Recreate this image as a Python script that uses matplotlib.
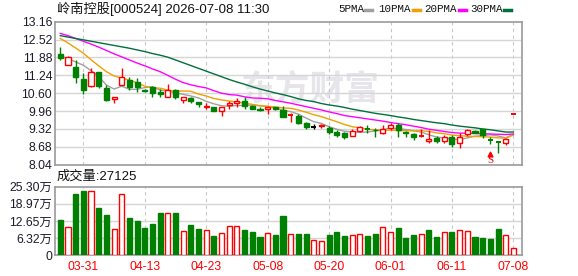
import matplotlib
matplotlib.use("Agg")
import matplotlib.pyplot as plt
from matplotlib.lines import Line2D

plt.rcParams['font.family'] = ['Liberation Sans', 'Noto Sans CJK SC']

# daily candles (open, high, low, close), 60 sessions
opens = [11.99, 11.60, 11.55, 11.10, 10.86, 11.35, 10.78, 10.38, 10.88, 11.07,
         11.01, 10.72, 10.81, 10.65, 10.47, 10.71, 10.36, 10.44, 10.27, 10.12,
         10.10, 9.96, 10.17, 10.24, 10.33, 10.14, 10.05, 10.02, 10.10, 10.00,
         9.80, 9.78, 9.52, 9.40, 9.41, 9.36, 9.22, 9.16, 9.07, 9.25,
         9.32, 9.30, 9.17, 9.34, 9.46, 9.21, 9.15, 9.07, 8.90, 9.00,
         8.90, 9.02, 8.83, 9.13, 9.25, 9.31, 8.94, 8.86, 8.81, 9.84]
highs = [12.24, 11.93, 11.79, 11.31, 11.49, 11.37, 10.89, 10.47, 11.49, 11.17,
         11.13, 10.76, 10.86, 10.74, 10.93, 10.76, 10.45, 10.47, 10.27, 10.24,
         10.10, 10.12, 10.33, 10.44, 10.47, 10.17, 10.12, 10.12, 10.12, 10.14,
         9.90, 9.84, 9.58, 9.50, 9.48, 9.42, 9.29, 9.22, 9.31, 9.44,
         9.46, 9.37, 9.46, 9.54, 9.52, 9.26, 9.18, 9.31, 9.28, 9.06,
         9.11, 9.10, 9.16, 9.31, 9.28, 9.33, 9.02, 8.89, 9.00, 9.84]
lows = [11.79, 11.60, 10.98, 10.56, 10.81, 10.78, 10.32, 10.24, 10.88, 10.71,
        10.65, 10.65, 10.47, 10.47, 10.47, 10.41, 10.26, 10.24, 10.10, 10.05,
        9.96, 9.78, 10.05, 10.12, 10.05, 10.02, 9.96, 9.87, 10.00, 9.76,
        9.58, 9.48, 9.32, 9.31, 9.36, 9.13, 9.04, 8.96, 9.07, 9.20,
        9.19, 9.04, 9.13, 9.28, 9.04, 9.02, 8.92, 9.04, 8.83, 8.83,
        8.83, 8.66, 8.65, 9.07, 9.17, 8.99, 8.78, 8.47, 8.74, 9.84]
closes = [11.87, 11.91, 11.19, 10.71, 11.35, 10.86, 10.36, 10.47, 11.19, 10.83,
          10.83, 10.68, 10.62, 10.57, 10.71, 10.45, 10.45, 10.33, 10.20, 10.14,
          9.96, 10.12, 10.24, 10.33, 10.14, 10.05, 10.00, 10.12, 10.02, 9.76,
          9.82, 9.54, 9.40, 9.40, 9.45, 9.22, 9.10, 9.04, 9.25, 9.38,
          9.30, 9.28, 9.31, 9.46, 9.28, 9.19, 9.04, 9.09, 8.95, 8.89,
          9.04, 8.77, 9.04, 9.28, 9.19, 9.10, 8.92, 8.85, 8.95, 9.84]

ma5 = [11.93, 11.84, 11.72, 11.60, 11.41, 11.20, 10.89, 10.75, 10.85, 10.74,
       10.74, 10.80, 10.83, 10.71, 10.68, 10.61, 10.56, 10.50, 10.43, 10.31,
       10.22, 10.15, 10.13, 10.16, 10.16, 10.18, 10.15, 10.13, 10.07, 9.99,
       9.94, 9.85, 9.71, 9.58, 9.52, 9.40, 9.31, 9.24, 9.21, 9.20,
       9.21, 9.25, 9.30, 9.35, 9.33, 9.30, 9.26, 9.21, 9.11, 9.03,
       9.00, 8.95, 8.94, 9.00, 9.06, 9.08, 9.11, 9.07, 9.00, 9.13]
ma10 = [12.56, 12.40, 12.22, 12.03, 11.80, 11.58, 11.37, 11.22, 11.14, 11.07,
        10.97, 10.85, 10.79, 10.78, 10.71, 10.67, 10.68, 10.67, 10.57, 10.50,
        10.41, 10.36, 10.32, 10.29, 10.24, 10.20, 10.15, 10.13, 10.11, 10.07,
        10.06, 10.00, 9.92, 9.83, 9.76, 9.67, 9.58, 9.48, 9.40, 9.36,
        9.31, 9.28, 9.27, 9.28, 9.26, 9.26, 9.25, 9.26, 9.23, 9.18,
        9.15, 9.10, 9.08, 9.06, 9.05, 9.04, 9.03, 9.00, 9.00, 9.10]
ma20 = [12.74, 12.66, 12.56, 12.46, 12.36, 12.25, 12.13, 12.01, 11.90, 11.79,
        11.68, 11.58, 11.47, 11.37, 11.24, 11.10, 10.98, 10.90, 10.84, 10.79,
        10.69, 10.60, 10.55, 10.53, 10.47, 10.43, 10.42, 10.40, 10.34, 10.29,
        10.24, 10.18, 10.12, 10.06, 10.00, 9.93, 9.87, 9.80, 9.76, 9.72,
        9.68, 9.64, 9.60, 9.55, 9.51, 9.47, 9.42, 9.37, 9.31, 9.27,
        9.23, 9.19, 9.17, 9.17, 9.16, 9.15, 9.14, 9.13, 9.12, 9.14]
ma30 = [12.66, 12.61, 12.56, 12.51, 12.46, 12.41, 12.36, 12.31, 12.26, 12.21,
        12.15, 12.09, 12.02, 11.96, 11.89, 11.79, 11.69, 11.59, 11.49, 11.39,
        11.29, 11.19, 11.09, 11.00, 10.92, 10.83, 10.75, 10.68, 10.61, 10.55,
        10.48, 10.40, 10.34, 10.30, 10.23, 10.18, 10.14, 10.09, 10.03, 9.98,
        9.93, 9.88, 9.84, 9.80, 9.75, 9.71, 9.66, 9.62, 9.58, 9.54,
        9.51, 9.46, 9.42, 9.39, 9.36, 9.32, 9.29, 9.25, 9.21, 9.21]

# volume in 万 shares, and whether the volume bar is drawn as an up day
volume = [13.0, 10.3, 22.6, 23.7, 23.7, 17.4, 14.9, 9.6, 22.5, 13.8,
          12.7, 10.1, 11.4, 15.6, 15.6, 15.6, 9.0, 11.2, 9.7, 9.3,
          7.1, 8.1, 10.7, 10.7, 9.3, 8.6, 6.8, 8.1, 7.5, 14.5,
          7.7, 7.9, 7.9, 5.6, 5.3, 7.5, 8.6, 7.1, 7.4, 7.7,
          7.1, 7.7, 10.3, 8.6, 10.1, 6.4, 7.5, 7.7, 9.3, 6.8,
          8.6, 8.6, 9.3, 9.0, 6.8, 6.4, 6.0, 9.7, 7.4, 2.71]
vol_dir = "DUDDUDDUUDDDDDUDUDDUDUUUDDDUDDUDDUUDDDUUDDUUDDDUDDUDUUDDDDUU"

date_idx = [3, 11, 19, 27, 35, 43, 51, 59]
date_labels = ['03-31', '04-13', '04-23', '05-08', '05-20', '06-01', '06-11', '07-08']

price_ticks = [8.04, 8.68, 9.32, 9.96, 10.60, 11.24, 11.88, 12.52, 13.16]
vol_ticks = [0, 6.325, 12.65, 18.975, 25.30]
vol_tick_labels = ['0', '6.32万', '12.65万', '18.97万', '25.30万']

title = '岭南控股[000524] 2026-07-08 11:30'
vol_title = '成交量:27125'
signal_day = 56

RED = '#ff0000'
GREEN = '#008000'
FRAME = '#9a9a9a'
GRID = '#d6d6d6'
TXT = '#1c1c2c'
MA_COLORS = ['#a0a0a0', '#f0a000', '#ff00ff', '#00703c']

W, H = 578, 276
fig = plt.figure(figsize=(W / 100, H / 100), dpi=100)
L, R = 55, 522
ax1 = fig.add_axes([L / W, 1 - 164.7 / H, (R - L) / W, 143 / H])
ax2 = fig.add_axes([L / W, 1 - 255.3 / H, (R - L) / W, 68.6 / H])

xlim = (-0.69, 60.12)
for ax in (ax1, ax2):
    ax.set_xlim(*xlim)
    for s in ax.spines.values():
        s.set_color(FRAME)
        s.set_linewidth(1.2)
    ax.tick_params(length=0, labelsize=8.8, labelcolor=TXT, pad=2)
    for d in date_idx:
        ax.axvline(d, color='#c8c8c8', lw=0.8, ls=(0, (3, 3)), zorder=1)

# watermark
ax1.text(310 / W, 1 - 89 / H, '东方财富', transform=fig.transFigure, ha='center', va='center',
         fontsize=25, fontweight='bold', color='#e6e6ea', family='Noto Sans CJK SC', zorder=0.5)

# price panel
ax1.set_ylim(price_ticks[0], price_ticks[-1])
ax1.set_yticks(price_ticks)
ax1.set_yticklabels(['%.2f' % t for t in price_ticks])
ax1.set_xticks([])
for t in price_ticks[1:-1]:
    ax1.axhline(t, color=GRID, lw=1, zorder=1)

bw = 0.66
for i in range(len(closes)):
    o, h, l, c = opens[i], highs[i], lows[i], closes[i]
    if c > o:
        col = RED
    elif c < o:
        col = GREEN
    else:
        prev = closes[i - 1] if i else c
        col = RED if c > prev else (GREEN if c < prev else 'black')
    ax1.vlines(i, l, h, color=col, lw=1, zorder=3)
    if abs(c - o) < 0.02:
        ax1.hlines((o + c) / 2, i - bw / 2, i + bw / 2, color=col, lw=1.4, zorder=4)
    else:
        face = 'white' if col == RED else col
        ax1.bar(i, abs(c - o), bw, bottom=min(o, c), facecolor=face, edgecolor=col,
                lw=1, zorder=4)

xs = list(range(len(closes)))
for ma, col in zip([ma5, ma10, ma20, ma30], MA_COLORS):
    ax1.plot(xs, ma, color=col, lw=1, zorder=2)

ax1.plot(signal_day, 8.43, marker='^', color=RED, ms=3.5, zorder=5)
ax1.text(signal_day, 8.19, 'S', color=RED, ha='center', va='center', fontsize=8,
         family='Liberation Serif', zorder=5)

# volume panel
ax2.set_ylim(0, vol_ticks[-1])
ax2.set_yticks(vol_ticks)
ax2.set_yticklabels(vol_tick_labels)
for t in vol_ticks[1:-1]:
    ax2.axhline(t, color=GRID, lw=1, zorder=1)
for i, v in enumerate(volume):
    if vol_dir[i] == 'U':
        ax2.bar(i, v, bw, facecolor='white', edgecolor=RED, lw=1, zorder=3)
    else:
        ax2.bar(i, v, bw, facecolor=GREEN, edgecolor=GREEN, lw=1, zorder=3)
ax2.set_xticks(date_idx)
ax2.set_xticklabels(date_labels, color=RED)
ax2.tick_params(axis='x', pad=4)

# header texts
fig.text(57 / W, 1 - 9 / H, title, fontsize=9.5, va='center', color='#111111')
fig.text(57 / W, 1 - 177 / H, vol_title, fontsize=9.5, va='center', color='#111111')

legend_names = ['5PMA', '10PMA', '20PMA', '30PMA']
legend_x = [338, 378, 424, 470]
legend_dash = [365, 413, 459, 504]
for name, x0, dx, col in zip(legend_names, legend_x, legend_dash, MA_COLORS):
    fig.text(x0 / W, 1 - 9 / H, name, fontsize=7.8, va='center', color='#111111',
             family='Liberation Mono')
    fig.add_artist(Line2D([dx / W, (dx + 7) / W], [1 - 9.5 / H, 1 - 9.5 / H],
                          transform=fig.transFigure, color=col, lw=2.5))

fig.savefig('out.png', dpi=100)
